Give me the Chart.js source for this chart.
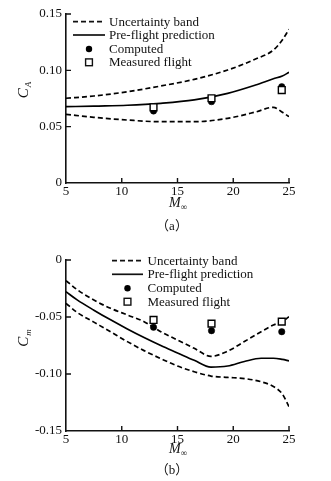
<!DOCTYPE html>
<html><head><meta charset="utf-8">
<script src="https://cdn.jsdelivr.net/npm/chart.js@4.4.1/dist/chart.umd.min.js"></script>
<style>
html,body{margin:0;padding:0;background:#fff;}
#wrap{position:relative;width:331px;height:481px;overflow:hidden;background:#fff;}
canvas{position:absolute;left:0;}
#ca{top:0;} #cb{top:240px;}
</style></head><body>
<div id="wrap"><canvas id="ca" width="331" height="240"></canvas><canvas id="cb" width="331" height="241"></canvas></div>
<script>
// ---------- data ----------
const xTickValues = [5, 10, 15, 20, 25];
const xTickLabels = ['5', '10', '15', '20', '25'];
const aYTickValues = [0, 0.05, 0.10, 0.15];
const aYTickLabels = ['0', '0.05', '0.10', '0.15'];
const bYTickValues = [-0.15, -0.10, -0.05, 0];
const bYTickLabels = ['-0.15', '-0.10', '-0.05', '0'];
const legendLabels = ['Uncertainty band', 'Pre-flight prediction', 'Computed', 'Measured flight'];

// (a) axial force coefficient C_A
const aMach  = [5, 7.5, 10.5, 13.5, 16.5, 19.5, 22, 23.6, 24.4, 25];
const aUpper = [0.0752, 0.0772, 0.0810, 0.0861, 0.0920, 0.1003, 0.1100, 0.1180, 0.1270, 0.1364];
const aPred  = [0.0677, 0.0683, 0.0690, 0.0707, 0.0737, 0.0796, 0.0870, 0.0925, 0.0950, 0.0982];
const aLower = [0.0610, 0.0583, 0.0559, 0.0544, 0.0544, 0.0574, 0.0630, 0.0672, 0.0628, 0.0589];

// (b) pitching moment coefficient C_m
const bMach  = [5, 6, 7.5, 9, 10.5, 12, 13.5, 15, 16.5, 18, 19.5, 21, 22.5, 23.6, 24.4, 25];
const bUpper = [-0.0181, -0.0260, -0.0351, -0.0424, -0.0482, -0.0541, -0.0629, -0.0702, -0.0775, -0.0845, -0.0800, -0.0715, -0.0630, -0.0570, -0.0540, -0.0497];
const bPred  = [-0.0278, -0.0350, -0.0440, -0.0525, -0.0605, -0.0680, -0.0750, -0.0815, -0.0880, -0.0940, -0.0930, -0.0890, -0.0862, -0.0862, -0.0872, -0.0885];
const bLower = [-0.0380, -0.0460, -0.0545, -0.0630, -0.0716, -0.0795, -0.0865, -0.0930, -0.0980, -0.1018, -0.1030, -0.1040, -0.1068, -0.1110, -0.1175, -0.1287];

// flight / computed points
const pointMach  = [12.85, 18.05, 24.35];
const aComputed  = [0.0639, 0.0722, 0.0855];
const aMeasured  = [0.0672, 0.0752, 0.0825];
const bComputed  = [-0.0590, -0.0620, -0.0629];
const bMeasured  = [-0.0526, -0.0558, -0.0541];

// ---------- rendering ----------
const INK = '#111';
const SERIF = "'Liberation Serif', 'Times New Roman', serif";
const DASH = [5, 3];
const LW = 1.7;
const zip = (xs, ys) => xs.map((x, i) => ({x: x, y: ys[i]}));

function decorPlugin(o) {
  return {
    id: 'decor',
    afterDraw(chart) {
      const ctx = chart.ctx, xs = chart.scales.x, ys = chart.scales.y;
      ctx.save();
      // inward tick marks
      ctx.strokeStyle = INK; ctx.lineWidth = 1.4; ctx.setLineDash([]);
      ctx.beginPath();
      xTickValues.forEach(v => {
        if (v === xs.min) return;
        const px = xs.getPixelForValue(v);
        ctx.moveTo(px, ys.bottom); ctx.lineTo(px, ys.bottom - 5);
      });
      o.yTicks.forEach(v => {
        if (v === ys.min) return;
        const py = ys.getPixelForValue(v);
        ctx.moveTo(xs.left, py); ctx.lineTo(xs.left + 5, py);
      });
      ctx.stroke();

      // legend
      const L = o.legend;
      ctx.fillStyle = INK; ctx.font = '13px ' + SERIF;
      ctx.textAlign = 'left'; ctx.textBaseline = 'middle';
      ctx.lineWidth = LW;
      ctx.beginPath(); ctx.setLineDash(DASH);
      ctx.moveTo(L.x0, L.rows[0]); ctx.lineTo(L.x1, L.rows[0]); ctx.stroke();
      ctx.beginPath(); ctx.setLineDash([]);
      ctx.moveTo(L.x0, L.rows[1]); ctx.lineTo(L.x1, L.rows[1]); ctx.stroke();
      const mx = (L.x0 + L.x1) / 2;
      ctx.beginPath(); ctx.arc(mx, L.rows[2], 3.2, 0, Math.PI * 2); ctx.fillStyle = '#000'; ctx.fill();
      ctx.lineWidth = 1.4; ctx.fillStyle = '#fff';
      ctx.fillRect(mx - 3.4, L.rows[3] - 3.4, 6.8, 6.8);
      ctx.strokeRect(mx - 3.4, L.rows[3] - 3.4, 6.8, 6.8);
      ctx.fillStyle = INK;
      legendLabels.forEach((t, i) => ctx.fillText(t, L.tx, L.rows[i] + 0.5));

      // y axis title (rotated)
      ctx.save();
      ctx.translate(o.yTitle.x, o.yTitle.y);
      ctx.rotate(-Math.PI / 2);
      ctx.textBaseline = 'alphabetic'; ctx.textAlign = 'left';
      ctx.font = 'italic 15px ' + SERIF;
      const cw = ctx.measureText('C').width;
      ctx.font = 'italic 9px ' + SERIF;
      const sw = ctx.measureText(o.yTitle.sub).width;
      const start = -(cw + sw + 1) / 2;
      ctx.font = 'italic 15px ' + SERIF;
      ctx.fillText('C', start, 4);
      ctx.font = 'italic 9px ' + SERIF;
      ctx.fillText(o.yTitle.sub, start + cw + 1, 7);
      ctx.restore();

      // x axis title M_inf
      ctx.textBaseline = 'alphabetic'; ctx.textAlign = 'left';
      ctx.font = 'italic 14px ' + SERIF;
      ctx.fillText('M', o.xTitle.x, o.xTitle.y);
      const mw = ctx.measureText('M').width;
      ctx.font = '9px ' + SERIF;
      ctx.fillText('\u221E', o.xTitle.x + mw, o.xTitle.y + 3);

      // sub caption
      ctx.font = "13px 'Liberation Serif', 'Noto Sans CJK SC', serif";
      ctx.textAlign = 'center'; ctx.textBaseline = 'middle';
      ctx.fillText(o.caption.text, o.caption.x, o.caption.y);
      ctx.restore();
    }
  };
}

function makeChart(id, o) {
  const lineDs = (label, data, dash) => ({
    label: label, data: data, borderColor: '#000', borderWidth: LW,
    borderDash: dash, pointRadius: 0, showLine: true, fill: false,
    cubicInterpolationMode: 'monotone', order: 2
  });
  return new Chart(document.getElementById(id), {
    type: 'line',
    data: {
      datasets: [
        lineDs(legendLabels[0], zip(o.mach, o.upper), DASH),
        lineDs(legendLabels[0], zip(o.mach, o.lower), DASH),
        lineDs(legendLabels[1], zip(o.mach, o.pred), []),
        { label: legendLabels[2], data: zip(pointMach, o.computed), showLine: false,
          pointStyle: 'circle', pointRadius: 3.2, backgroundColor: '#000', borderColor: '#000',
          borderWidth: 0.5, order: 1 },
        { label: legendLabels[3], data: zip(pointMach, o.measured), showLine: false,
          pointStyle: 'rect', pointRadius: 4.8, backgroundColor: '#fff', borderColor: '#000',
          borderWidth: 1.4, order: 0 }
      ]
    },
    options: {
      responsive: false, animation: false, events: [],
      layout: { padding: { left: 0, right: 42, top: o.top, bottom: 0 } },
      plugins: { legend: { display: false }, tooltip: { enabled: false } },
      scales: {
        x: {
          type: 'linear', min: 5, max: 25,
          afterBuildTicks: s => { s.ticks = xTickValues.map(v => ({ value: v })); },
          afterFit: s => { s.height = o.xh; },
          ticks: { callback: (v, i) => xTickLabels[i], padding: 1, maxRotation: 0, autoSkip: false,
                   color: INK, font: { family: SERIF, size: 13 } },
          grid: { display: false, drawTicks: false },
          border: { display: true, color: INK, width: 1.6 }
        },
        y: {
          type: 'linear', min: o.ymin, max: o.ymax,
          afterBuildTicks: s => { s.ticks = o.yTicks.map(v => ({ value: v })); },
          afterFit: s => { s.width = 66; },
          ticks: { callback: (v, i) => o.yLabels[i], padding: 4, autoSkip: false,
                   color: INK, font: { family: SERIF, size: 13 } },
          grid: { display: false, drawTicks: false },
          border: { display: true, color: INK, width: 1.6 }
        }
      }
    },
    plugins: [decorPlugin(o)]
  });
}

makeChart('ca', {
  mach: aMach, upper: aUpper, pred: aPred, lower: aLower,
  computed: aComputed, measured: aMeasured,
  ymin: 0, ymax: 0.15, yTicks: aYTickValues, yLabels: aYTickLabels,
  top: 14, xh: 57,
  legend: { x0: 73, x1: 105, tx: 109, rows: [21.7, 35, 49, 62.3] },
  yTitle: { x: 24, y: 90, sub: 'A' },
  xTitle: { x: 169, y: 207 },
  caption: { text: '\uFF08a\uFF09', x: 172, y: 227 }
});

makeChart('cb', {
  mach: bMach, upper: bUpper, pred: bPred, lower: bLower,
  computed: bComputed, measured: bMeasured,
  ymin: -0.15, ymax: 0, yTicks: bYTickValues, yLabels: bYTickLabels,
  top: 20, xh: 50,
  legend: { x0: 112, x1: 143, tx: 147.5, rows: [20.7, 34.3, 48.3, 61.7] },
  yTitle: { x: 24, y: 98, sub: 'm' },
  xTitle: { x: 169, y: 213 },
  caption: { text: '\uFF08b\uFF09', x: 172, y: 231 }
});
</script>
</body></html>
